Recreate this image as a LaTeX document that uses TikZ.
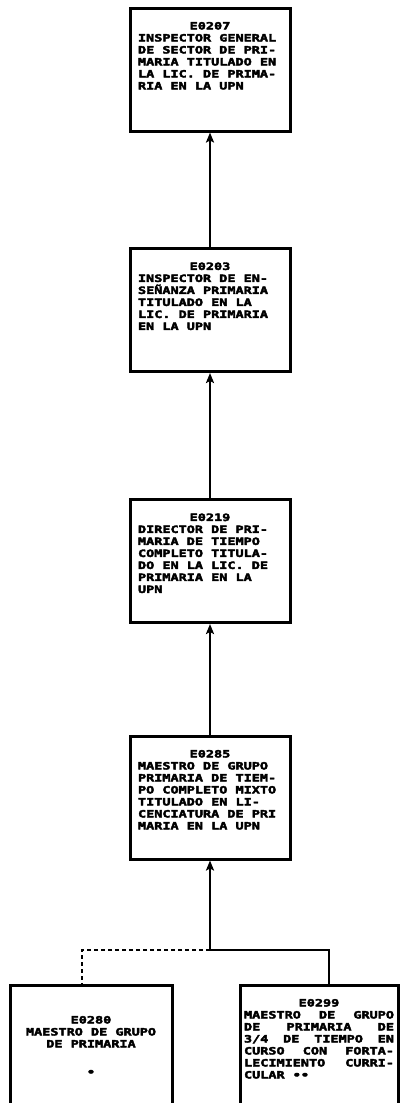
\documentclass[tikz,border=0pt]{standalone}
\usepackage{fontspec}
\usepackage{tikz}
\usetikzlibrary{arrows.meta}
\newfontfamily\boxfont{DejaVu Sans Mono}[FakeStretch=1.35, FakeBold=4]

\tikzset{
  puesto/.style={draw, line width=3pt, inner sep=0pt, minimum width=160pt,
    minimum height=123pt, font=\boxfont\bfseries\fontsize{10}{12}\selectfont},
  enlace/.style={line width=2.2pt},
  flecha/.style={enlace, -{Stealth[length=10pt, width=8pt, inset=2pt]}},
}
\newcommand{\puesto}[3][144pt]{\parbox[c][115pt][t]{#1}{\raggedright
  \vspace*{10pt}\centerline{#2}#3}}

\begin{document}
\begin{tikzpicture}[x=1pt, y=1pt]
		\useasboundingbox (0,0) rectangle (404,-1103);

		\node[puesto] (E0207) at (210,-69.5) {\puesto{E0207}{INSPECTOR GENERAL\\
			DE SECTOR DE PRI-\\MARIA TITULADO EN\\LA LIC. DE PRIMA-\\RIA EN LA UPN}};
		\node[puesto] (E0203) at (210,-310) {\puesto{E0203}{INSPECTOR DE EN-\\
			SEÑANZA PRIMARIA\\TITULADO EN LA\\LIC. DE PRIMARIA\\EN LA UPN}};
		\node[puesto] (E0219) at (210,-561) {\puesto{E0219}{DIRECTOR DE PRI-\\
			MARIA DE TIEMPO\\COMPLETO TITULA-\\DO EN LA LIC. DE\\PRIMARIA EN LA\\UPN}};
		\node[puesto] (E0285) at (210,-797.5) {\puesto{E0285}{MAESTRO DE GRUPO\\
			PRIMARIA DE TIEM-\\PO COMPLETO MIXTO\\TITULADO EN LI-\\CENCIATURA DE PRI\\
			MARIA EN LA UPN}};

		\node[puesto, minimum width=162pt] (E0280) at (91,-1046.5)
			{\parbox[c][115pt][t]{144pt}{\centering\vspace*{27pt}E0280\\
			MAESTRO DE GRUPO\\DE PRIMARIA\\[16pt]•}};
		\node[puesto, minimum width=158pt] (E0299) at (319,-1046.5)
			{\puesto[150pt]{E0299}{\makebox[\linewidth][s]{MAESTRO DE GRUPO}\par
			\makebox[\linewidth][s]{DE PRIMARIA DE}\par
			\makebox[\linewidth][s]{3/4 DE TIEMPO EN}\par
			\makebox[\linewidth][s]{CURSO CON FORTA-}\par
			\makebox[\linewidth][s]{LECIMIENTO CURRI-}\par
			CULAR ••}};

		\draw[flecha] (E0203) -- (E0207);
		\draw[flecha] (E0219) -- (E0203);
		\draw[flecha] (E0285) -- (E0219);

		\coordinate (union) at (210,-950);
		\draw[flecha] (union) -- (E0285);
		\draw[enlace] (union) -| ([xshift=10pt]E0299.north);
		\draw[enlace, dash pattern=on 4pt off 3pt] (union) -| ([xshift=-9pt]E0280.north);

		\end{tikzpicture}
\end{document}
